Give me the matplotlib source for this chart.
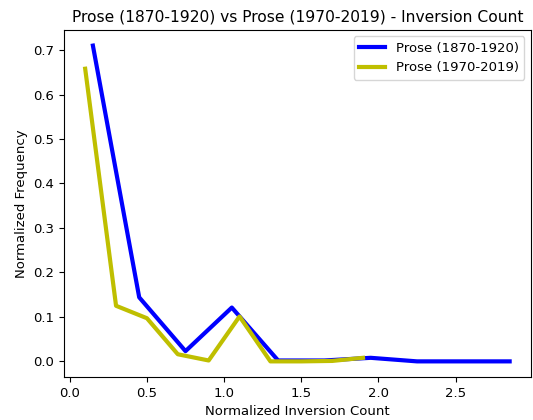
import matplotlib
matplotlib.use('Agg')
import matplotlib.pyplot as plt

# bin centres and normalized frequencies
old_x = [0.15, 0.45, 0.75, 1.05, 1.35, 1.65, 1.95, 2.25, 2.55, 2.85]
old_y = [0.710, 0.144, 0.023, 0.121, 0.002, 0.002, 0.008, 0.0, 0.0, 0.0]

new_x = [0.1, 0.3, 0.5, 0.7, 0.9, 1.1, 1.3, 1.5, 1.7, 1.9]
new_y = [0.658, 0.125, 0.097, 0.016, 0.002, 0.101, 0.0, 0.0, 0.001, 0.008]

plt.rcParams['font.size'] = 9.5

fig = plt.figure(figsize=(5.33, 4.2), dpi=100)
ax = fig.add_subplot(111)
ax.plot(old_x, old_y, color='b', linewidth=3, label='Prose (1870-1920)')
ax.plot(new_x, new_y, color='y', linewidth=3, label='Prose (1970-2019)')
ax.set_title('Prose (1870-1920) vs Prose (1970-2019) - Inversion Count', fontsize=11.2)
ax.set_xlabel('Normalized Inversion Count')
ax.set_ylabel('Normalized Frequency')
ax.legend(loc='upper right')
fig.subplots_adjust(left=0.12, right=0.996, top=0.929, bottom=0.102)
fig.savefig('out.png', dpi=100)
